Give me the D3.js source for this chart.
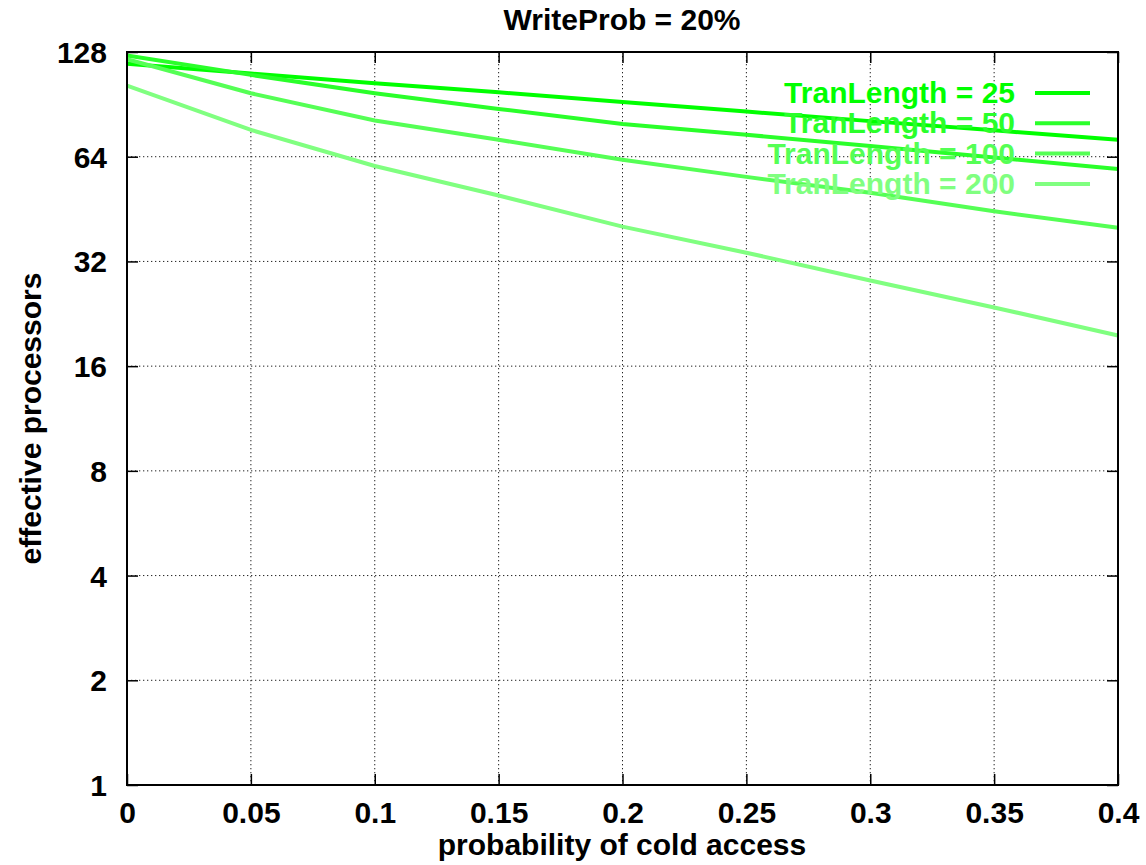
<!doctype html>
<html lang="en">
  <head>
    <meta charset="utf-8">
    <title>WriteProb = 20%</title>
    <style>
      body{margin:0;background:#fff;}
      svg text{font-family:"Liberation Sans", Arial, Helvetica, sans-serif;font-weight:bold;fill:#000;}
    </style>
  </head>
  <body>
    <div class="holder"></div>
    <script src="https://cdn.jsdelivr.net/npm/d3@7/dist/d3.min.js"></script>
    <script>

      // x values (probability of cold access)
      var coldProb = [0, 0.05, 0.1, 0.15, 0.2, 0.25, 0.3, 0.35, 0.4];

      // effective processors per transaction length
      var tran25  = [118.5, 111, 104, 98, 92, 86.3, 81, 76.2, 71.6];
      var tran50  = [125, 110, 97.4, 87.8, 79.5, 74, 68.7, 63.7, 59];
      var tran100 = [122, 97.4, 81.3, 71.6, 62.7, 56, 50.4, 44.6, 40];
      var tran200 = [102.4, 76.4, 60.2, 49.5, 40.3, 33.9, 28.2, 23.6, 19.6];

      var seriesNames = ["TranLength = 25", "TranLength = 50", "TranLength = 100", "TranLength = 200"];
      var seriesColors = ["#00ff00", "#2aff2a", "#55ff55", "#80ff80"];

      var xTicks = [0, 0.05, 0.1, 0.15, 0.2, 0.25, 0.3, 0.35, 0.4];
      var xTickLabels = ["0", "0.05", "0.1", "0.15", "0.2", "0.25", "0.3", "0.35", "0.4"];
      var yTicks = [1, 2, 4, 8, 16, 32, 64, 128];

      // plot box (note: "top" is a reserved window property, so use m* names)
      var width = 1146, height = 865,
          mLeft = 127, mRight = 1118, mTop = 52, mBottom = 785,
          fontSize = 30;

      var svg = d3.select(".holder")
          .append("svg")
          .attr("width", width)
          .attr("height", height);

      var x = d3.scaleLinear().domain([0, 0.4]).range([mLeft, mRight]);
      var y = d3.scaleLog().base(2).domain([1, 128]).range([mBottom, mTop]);

      // grid
      var grid = svg.append("g");
      grid.selectAll(".gx")
          .data(xTicks.slice(1, -1))
          .enter().append("line")
          .attr("x1", function(d){ return x(d); })
          .attr("x2", function(d){ return x(d); })
          .attr("y1", mTop).attr("y2", mBottom)
          .attr("stroke", "#222").attr("stroke-width", 1)
          .attr("stroke-dasharray", "1.3,2.7");
      grid.selectAll(".gy")
          .data(yTicks.slice(1, -1))
          .enter().append("line")
          .attr("y1", function(d){ return y(d); })
          .attr("y2", function(d){ return y(d); })
          .attr("x1", mLeft).attr("x2", mRight)
          .attr("stroke", "#222").attr("stroke-width", 1)
          .attr("stroke-dasharray", "1.3,2.7");

      // axes with inward ticks, mirrored
      var tickLen = 11;
      svg.append("g")
          .attr("transform", "translate(0," + mBottom + ")")
          .call(d3.axisBottom(x).tickValues(xTicks).tickSize(-tickLen).tickFormat(function(d, i){ return xTickLabels[i]; }).tickPadding(38))
          .call(function(g){
            g.select(".domain").remove();
            g.selectAll("line").attr("stroke", "#000").attr("stroke-width", 1.5);
            g.selectAll("text").attr("font-size", fontSize).attr("dy", 0);
          });
      svg.append("g")
          .attr("transform", "translate(0," + mTop + ")")
          .call(d3.axisTop(x).tickValues(xTicks).tickSize(-tickLen).tickFormat(""))
          .call(function(g){
            g.select(".domain").remove();
            g.selectAll("line").attr("stroke", "#000").attr("stroke-width", 1.5);
          });
      svg.append("g")
          .attr("transform", "translate(" + mLeft + ",0)")
          .call(d3.axisLeft(y).tickValues(yTicks).tickSize(-tickLen).tickFormat(d3.format("d")).tickPadding(20))
          .call(function(g){
            g.select(".domain").remove();
            g.selectAll("line").attr("stroke", "#000").attr("stroke-width", 1.5);
            g.selectAll("text").attr("font-size", fontSize).attr("dy", "0.35em");
          });
      svg.append("g")
          .attr("transform", "translate(" + mRight + ",0)")
          .call(d3.axisRight(y).tickValues(yTicks).tickSize(-tickLen).tickFormat(""))
          .call(function(g){
            g.select(".domain").remove();
            g.selectAll("line").attr("stroke", "#000").attr("stroke-width", 1.5);
          });

      // series: key entry then curve, like gnuplot
      var allSeries = [tran25, tran50, tran100, tran200];
      var line = d3.line()
          .x(function(d, i){ return x(coldProb[i]); })
          .y(function(d){ return y(d); });

      allSeries.forEach(function(vals, i){
        var ky = 93 + i * 30.3;
        svg.append("text")
            .attr("x", 1015).attr("y", ky + 10)
            .attr("text-anchor", "end")
            .attr("font-size", fontSize)
            .style("fill", seriesColors[i])
            .text(seriesNames[i]);
        svg.append("line")
            .attr("x1", 1035).attr("x2", 1090)
            .attr("y1", ky).attr("y2", ky)
            .attr("stroke", seriesColors[i]).attr("stroke-width", 4);
        svg.append("path")
            .datum(vals)
            .attr("d", line)
            .attr("fill", "none")
            .attr("stroke", seriesColors[i])
            .attr("stroke-width", 4);
      });

      // frame
      svg.append("rect")
          .attr("x", mLeft).attr("y", mTop)
          .attr("width", mRight - mLeft).attr("height", mBottom - mTop)
          .attr("fill", "none").attr("stroke", "#000").attr("stroke-width", 2);

      // title and labels
      svg.append("text")
          .attr("x", 622).attr("y", 30)
          .attr("text-anchor", "middle").attr("font-size", fontSize)
          .text("WriteProb = 20%");
      svg.append("text")
          .attr("x", 622).attr("y", 855)
          .attr("text-anchor", "middle").attr("font-size", fontSize)
          .text("probability of cold access");
      svg.append("text")
          .attr("transform", "translate(41," + ((mTop + mBottom) / 2) + ") rotate(-90)")
          .attr("text-anchor", "middle").attr("font-size", fontSize)
          .text("effective processors");

    </script>
  </body>
</html>
